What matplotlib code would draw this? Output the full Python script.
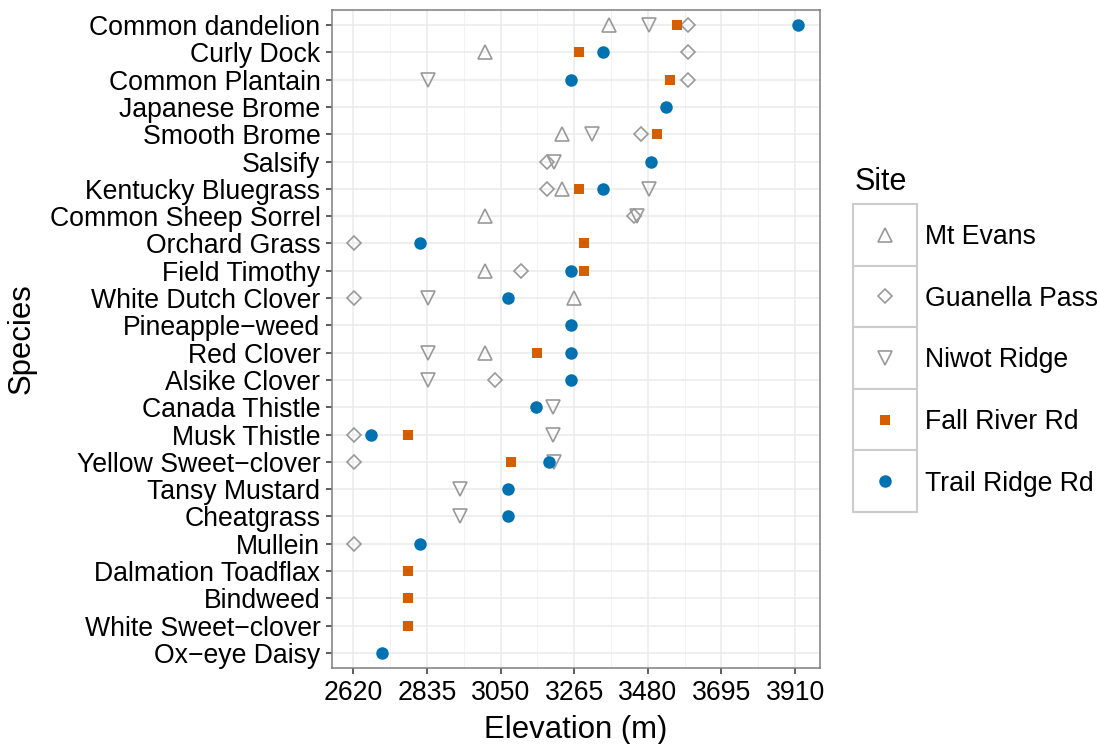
import matplotlib
matplotlib.use("Agg")
import matplotlib.pyplot as plt
import numpy as np
from matplotlib.patches import Rectangle
from matplotlib.lines import Line2D

plt.rcParams["font.family"] = ["Liberation Sans", "DejaVu Sans"]

# Species, listed top to bottom
species = [
    "Common dandelion", "Curly Dock", "Common Plantain", "Japanese Brome",
    "Smooth Brome", "Salsify", "Kentucky Bluegrass", "Common Sheep Sorrel",
    "Orchard Grass", "Field Timothy", "White Dutch Clover", "Pineapple\u2212weed",
    "Red Clover", "Alsike Clover", "Canada Thistle", "Musk Thistle",
    "Yellow Sweet\u2212clover", "Tansy Mustard", "Cheatgrass", "Mullein",
    "Dalmation Toadflax", "Bindweed", "White Sweet\u2212clover", "Ox\u2212eye Daisy",
]

# Highest elevation (m) at which each species was recorded, per site
mt_evans = {
    "Common dandelion": 3366, "Curly Dock": 3003, "Smooth Brome": 3229,
    "Kentucky Bluegrass": 3230, "Common Sheep Sorrel": 3003, "Field Timothy": 3003,
    "White Dutch Clover": 3263, "Red Clover": 3003,
}
guanella_pass = {
    "Common dandelion": 3596, "Curly Dock": 3598, "Common Plantain": 3596,
    "Smooth Brome": 3459, "Salsify": 3185, "Kentucky Bluegrass": 3185,
    "Common Sheep Sorrel": 3440, "Orchard Grass": 2622, "Field Timothy": 3110,
    "White Dutch Clover": 2622, "Alsike Clover": 3033, "Musk Thistle": 2622,
    "Yellow Sweet\u2212clover": 2622, "Mullein": 2622,
}
niwot_ridge = {
    "Common dandelion": 3484, "Common Plantain": 2837, "Smooth Brome": 3316,
    "Salsify": 3206, "Kentucky Bluegrass": 3484, "Common Sheep Sorrel": 3449,
    "White Dutch Clover": 2837, "Red Clover": 2837, "Alsike Clover": 2837,
    "Canada Thistle": 3203, "Musk Thistle": 3203, "Yellow Sweet\u2212clover": 3206,
    "Tansy Mustard": 2931, "Cheatgrass": 2931,
}
fall_river_rd = {
    "Common dandelion": 3564, "Curly Dock": 3278, "Common Plantain": 3546,
    "Smooth Brome": 3506, "Kentucky Bluegrass": 3278, "Orchard Grass": 3292,
    "Field Timothy": 3292, "Red Clover": 3157, "Musk Thistle": 2778,
    "Yellow Sweet\u2212clover": 3079, "Dalmation Toadflax": 2778, "Bindweed": 2778,
    "White Sweet\u2212clover": 2778,
}
trail_ridge_rd = {
    "Common dandelion": 3918, "Curly Dock": 3348, "Common Plantain": 3256,
    "Japanese Brome": 3533, "Salsify": 3489, "Kentucky Bluegrass": 3348,
    "Orchard Grass": 2813, "Field Timothy": 3256, "White Dutch Clover": 3071,
    "Pineapple\u2212weed": 3256, "Red Clover": 3256, "Alsike Clover": 3256,
    "Canada Thistle": 3152, "Musk Thistle": 2672, "Yellow Sweet\u2212clover": 3190,
    "Tansy Mustard": 3071, "Cheatgrass": 3071, "Mullein": 2814, "Ox\u2212eye Daisy": 2702,
}

x_ticks = [2620, 2835, 3050, 3265, 3480, 3695, 3910]

GREY = "#999999"
ORANGE = "#D55E00"
BLUE = "#0072B2"

sites = [
    ("Mt Evans", mt_evans, dict(marker="^", ms=9.8, mfc="none", mec=GREY, mew=1.2)),
    ("Guanella Pass", guanella_pass, dict(marker="D", ms=7.3, mfc="none", mec=GREY, mew=1.2)),
    ("Niwot Ridge", niwot_ridge, dict(marker="v", ms=9.8, mfc="none", mec=GREY, mew=1.2)),
    ("Fall River Rd", fall_river_rd, dict(marker="s", ms=7.8, mfc=ORANGE, mec="none", mew=0)),
    ("Trail Ridge Rd", trail_ridge_rd, dict(marker="o", ms=9.0, mfc=BLUE, mec="none", mew=0)),
]

W, H = 1097, 744
fig = plt.figure(figsize=(W / 100, H / 100), dpi=100)
ax = fig.add_axes([332 / W, 1 - 668 / H, (820 - 332) / W, (668 - 10) / H])

ypos = {s: len(species) - 1 - i for i, s in enumerate(species)}

for name, vals, style in sites:
    xs = list(vals.values())
    ys = [ypos[s] for s in vals]
    ax.plot(xs, ys, linestyle="none", zorder=3, **style)

ax.set_xticks(x_ticks)
ax.set_xticks([(a + b) / 2 for a, b in zip(x_ticks[:-1], x_ticks[1:])], minor=True)
ax.set_yticks([ypos[s] for s in species])
ax.set_yticklabels(species)

all_vals = [v for _, vals, _ in sites for v in vals.values()]
lo, hi = min(all_vals), max(all_vals)
pad = 0.05 * (hi - lo)
ax.set_xlim(lo - pad, hi + pad)
ax.set_ylim(-0.55, len(species) - 1 + 0.55)

ax.grid(which="major", color="#EBEBEB", linewidth=1.1, zorder=0)
ax.grid(which="minor", axis="x", color="#F2F2F2", linewidth=0.7, zorder=0)
ax.set_axisbelow(True)

for sp in ax.spines.values():
    sp.set_color("#7F7F7F")
    sp.set_linewidth(1.1)

ax.tick_params(which="major", length=4.3, width=1.1, color="#333333",
               labelsize=19.2, labelcolor="black", pad=4)
ax.tick_params(axis="x", which="major", pad=4.5)
ax.tick_params(which="minor", length=0)

ax.set_xlabel("Elevation (m)", fontsize=22.4)
ax.xaxis.set_label_coords(0.5, (668 - 730) / 658)
ax.xaxis.label.set_va("center")
ax.set_ylabel("Species", fontsize=22.4)
ax.yaxis.set_label_coords((22 - 332) / 488, 0.5)
ax.yaxis.label.set_va("center")

# Legend drawn as framed keys, one per site
box_l, box_w = 853, 64
box_top, box_h = 204, 61.6
fig.text(855 / W, 1 - 190 / H, "Site", fontsize=22, va="baseline", ha="left")
for i, (name, vals, style) in enumerate(sites):
    top = box_top + i * box_h
    fig.patches.append(Rectangle((box_l / W, 1 - (top + box_h) / H), box_w / W, box_h / H,
                                 transform=fig.transFigure, facecolor="white",
                                 edgecolor="#CCCCCC", linewidth=1.5))
    cy = top + box_h / 2
    fig.add_artist(Line2D([(box_l + box_w / 2) / W], [1 - cy / H],
                          transform=fig.transFigure, linestyle="none", **style))
    fig.text(925 / W, 1 - (cy + 9.5) / H, name, fontsize=19.2, va="baseline", ha="left")

fig.savefig("out.png", dpi=100)
